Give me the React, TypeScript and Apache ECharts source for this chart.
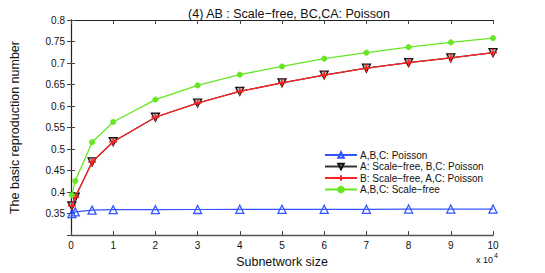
import React, { useEffect, useRef } from "react";
import * as echarts from "echarts";

const titleText = "(4) AB : Scale\u2212free, BC,CA: Poisson";
const subnetworkSize = [200, 1000, 5000, 10000, 20000, 30000, 40000, 50000, 60000, 70000, 80000, 90000, 100000];
const poissonAll = [0.350, 0.354, 0.358, 0.359, 0.359, 0.3595, 0.36, 0.36, 0.36, 0.36, 0.3605, 0.3605, 0.3605];
const aScaleFree = [0.368, 0.388, 0.470, 0.517, 0.574, 0.607, 0.634, 0.654, 0.672, 0.688, 0.701, 0.712, 0.724];
const bScaleFree = [0.368, 0.388, 0.470, 0.517, 0.574, 0.607, 0.634, 0.654, 0.672, 0.688, 0.701, 0.712, 0.724];
const scaleFreeAll = [0.393, 0.426, 0.516, 0.563, 0.615, 0.648, 0.673, 0.692, 0.710, 0.724, 0.737, 0.748, 0.758];
const seriesNames = [
  "A,B,C: Poisson",
  "A: Scale\u2212free, B,C: Poisson",
  "B: Scale\u2212free, A,C: Poisson",
  "A,B,C: Scale\u2212free",
];

const FONT = "Liberation Sans, Arial, Helvetica, sans-serif";
const pair = (ys: number[]) => subnetworkSize.map((x, i) => [x, ys[i]]);

export default function App() {
  const ref = useRef<HTMLDivElement>(null);
  useEffect(() => {
    if (!ref.current) return;
    const chart = echarts.init(ref.current, null, { renderer: "svg" });
    const axisLineColor = "#555";
    chart.setOption({
      animation: false,
      backgroundColor: "#fff",
      title: {
        text: titleText,
        left: 284,
        textAlign: "center",
        top: 2,
        textStyle: { fontFamily: FONT, fontSize: 12.5, fontWeight: "normal", color: "#111" },
      },
      grid: { left: 71, right: 52, top: 20, bottom: 31 },
      legend: {
        orient: "vertical",
        left: 324,
        top: 150,
        padding: 0,
        itemWidth: 32,
        itemHeight: 7,
        itemGap: 1.5,
        data: seriesNames,
        textStyle: { fontFamily: FONT, fontSize: 10, color: "#111", padding: [0, 0, 0, -2] },
      },
      xAxis: [
        {
          type: "value",
          min: 0,
          max: 100000,
          interval: 10000,
          name: "Subnetwork size",
          nameLocation: "middle",
          nameGap: 15,
          nameTextStyle: { fontFamily: FONT, fontSize: 12.5, color: "#111" },
          axisLine: { show: true, lineStyle: { color: axisLineColor, width: 1.3 } },
          axisTick: { show: true, inside: true, length: 4, lineStyle: { color: "#444" } },
          axisLabel: {
            fontFamily: FONT,
            fontSize: 10,
            color: "#111",
            margin: 5,
            formatter: (v: number) => String(v / 10000),
          },
          splitLine: { show: false },
        },
        {
          type: "value",
          position: "top",
          min: 0,
          max: 100000,
          interval: 10000,
          axisLine: { show: true, lineStyle: { color: "#222", width: 1 } },
          axisTick: { show: true, inside: true, length: 4, lineStyle: { color: "#444" } },
          axisLabel: { show: false },
          splitLine: { show: false },
        },
      ],
      yAxis: [
        {
          type: "value",
          min: 0.3,
          max: 0.8,
          interval: 0.05,
          name: "The basic reproduction number",
          nameLocation: "middle",
          nameGap: 50,
          nameTextStyle: { fontFamily: FONT, fontSize: 12.5, color: "#111" },
          axisLine: { show: true, lineStyle: { color: axisLineColor, width: 1.3 } },
          axisTick: { show: true, inside: true, length: 4, lineStyle: { color: "#444" } },
          axisLabel: {
            fontFamily: FONT,
            fontSize: 10,
            color: "#111",
            margin: 6,
            showMinLabel: false,
            formatter: (v: number) => String(Number(v.toFixed(2))),
          },
          splitLine: { show: false },
        },
        {
          type: "value",
          position: "right",
          min: 0.3,
          max: 0.8,
          interval: 0.05,
          axisLine: { show: true, lineStyle: { color: "#222", width: 1 } },
          axisTick: { show: true, inside: true, length: 4, lineStyle: { color: "#444" } },
          axisLabel: { show: false },
          splitLine: { show: false },
        },
      ],
      graphic: [
        {
          type: "text",
          left: 476,
          top: 255,
          style: { text: "x 10", font: `9px ${FONT}`, fill: "#111" },
        },
        {
          type: "text",
          left: 494,
          top: 252,
          style: { text: "4", font: `7px ${FONT}`, fill: "#111" },
        },
      ],
      series: [
        {
          name: seriesNames[0],
          type: "line",
          data: pair(poissonAll),
          symbol: "triangle",
          symbolSize: 8,
          showAllSymbol: true,
          lineStyle: { color: "#3355ff", width: 1.2 },
          itemStyle: { color: "rgba(255,255,255,0)", borderColor: "#3355ff", borderWidth: 1.3 },
          z: 3,
        },
        {
          name: seriesNames[1],
          type: "line",
          data: pair(aScaleFree),
          symbol: "triangle",
          symbolRotate: 180,
          symbolSize: 8,
          lineStyle: { color: "#333", width: 1.2 },
          itemStyle: { color: "rgba(120,120,120,0.5)", borderColor: "#111", borderWidth: 1.3 },
          z: 3,
        },
        {
          name: seriesNames[2],
          type: "line",
          data: pair(bScaleFree),
          symbol: "path://M0,-1L0,1M-1,0L1,0",
          symbolSize: 8,
          lineStyle: { color: "#ff2222", width: 1.3 },
          itemStyle: { color: "#ff2222", borderColor: "#ff2222", borderWidth: 1.5 },
          z: 4,
        },
        {
          name: seriesNames[3],
          type: "line",
          data: pair(scaleFreeAll),
          symbol: "circle",
          symbolSize: 5.5,
          lineStyle: { color: "#66e622", width: 1.3 },
          itemStyle: { color: "#66e622", borderColor: "#66e622", borderWidth: 0.5 },
          z: 4,
        },
      ],
    });
    return () => chart.dispose();
  }, []);
  return <div ref={ref} style={{ width: 545, height: 273, position: "absolute", left: 0, top: 0 }} />;
}
